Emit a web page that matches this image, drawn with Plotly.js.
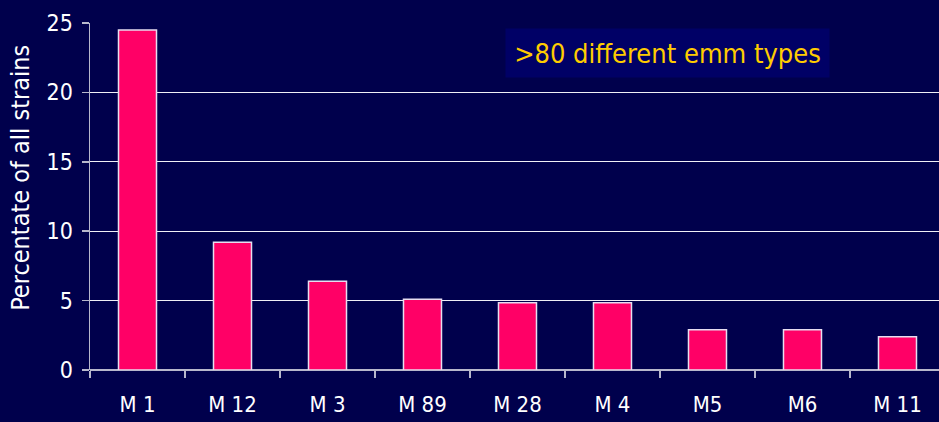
<!DOCTYPE html>
<html>
<head>
<meta charset="utf-8">
<script src="https://cdn.plot.ly/plotly-3.0.1.min.js"></script>
<style>
  html, body { margin: 0; padding: 0; background: #00004C; }
  #chart { width: 939px; height: 422px; }
</style>
</head>
<body>
<div id="chart"></div>
<script>
// emm (M protein) types, most common first
const types = ['M 1', 'M 12', 'M 3', 'M 89', 'M 28', 'M 4', 'M5', 'M6', 'M 11'];
// share of all strains, in percent
const percent = [24.5, 9.2, 6.4, 5.1, 4.85, 4.85, 2.9, 2.9, 2.4];
const yTicks = [0, 5, 10, 15, 20, 25];

const narrow = '"DejaVu Sans Condensed", "Liberation Sans Narrow", sans-serif';

const trace = {
  type: 'bar',
  x: types,
  y: percent,
  width: 0.4,
  marker: {
    color: '#FF0066',
    line: { color: '#E6DDF0', width: 1.5 }
  },
  hoverinfo: 'x+y'
};

const layout = {
  width: 939,
  height: 422,
  margin: { l: 90, r: 0, t: 23, b: 52 },
  paper_bgcolor: '#00004C',
  plot_bgcolor: '#00004C',
  showlegend: false,
  font: { family: narrow, color: '#FFFFFF', size: 22 },
  xaxis: {
    type: 'category',
    range: [-0.5, 8.437],
    showgrid: false,
    zeroline: false,
    showline: false,
    ticks: 'outside',
    tickson: 'boundaries',
    ticklen: 7,
    tickwidth: 1.5,
    tickcolor: '#B8B8CC',
    tickfont: { family: narrow, size: 22, color: '#FFFFFF' },
    ticklabelstandoff: 19
  },
  yaxis: {
    range: [0, 25],
    tickvals: yTicks,
    showgrid: true,
    gridcolor: '#F0F0F6',
    gridwidth: 1.3,
    zeroline: true,
    zerolinecolor: '#B8B8CC',
    zerolinewidth: 2,
    showline: true,
    linecolor: '#B8B8CC',
    linewidth: 1.5,
    ticks: 'outside',
    ticklen: 7,
    tickcolor: '#B8B8CC',
    tickwidth: 1.5,
    tickfont: { family: narrow, size: 23, color: '#FFFFFF' },
    ticklabelstandoff: 4
  },
  annotations: [
    {
      // value-axis caption, sitting a little above the axis middle
      xref: 'paper', yref: 'paper',
      x: -0.082, y: 0.555,
      xanchor: 'center', yanchor: 'middle',
      text: 'Percentate of all strains',
      textangle: -90,
      showarrow: false,
      font: { family: narrow, size: 25, color: '#FFFFFF' }
    },
    {
      xref: 'paper', yref: 'paper',
      x: 0.680, y: 0.913,
      xanchor: 'center', yanchor: 'middle',
      text: '>80 different emm types',
      showarrow: false,
      width: 323,
      height: 48,
      borderpad: 0,
      bgcolor: '#000066',
      font: { family: narrow, size: 27, color: '#FFCC00' }
    }
  ]
};

Plotly.newPlot('chart', [trace], layout, { displayModeBar: false, staticPlot: true });
</script>
</body>
</html>
